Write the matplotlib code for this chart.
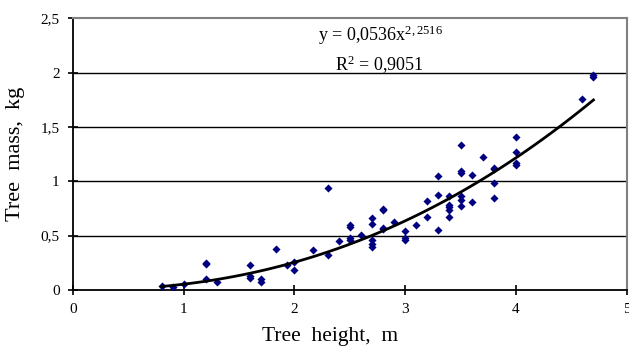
import matplotlib.pyplot as plt
import numpy as np

# tree height (m) and mass (kg)
height = [0.8, 0.9, 1.0, 1.2, 1.2, 1.2, 1.3, 1.6, 1.6, 1.6, 1.7, 1.7, 1.83, 1.93,
          2.0, 2.0, 2.17, 2.3, 2.3, 2.4, 2.5, 2.5, 2.5, 2.5, 2.6,
          2.7, 2.7, 2.7, 2.7, 2.7, 2.8, 2.8, 2.8, 2.8, 2.9,
          3.0, 3.0, 3.0, 3.1, 3.2, 3.2, 3.3, 3.3, 3.3,
          3.4, 3.4, 3.4, 3.4, 3.4, 3.5, 3.5, 3.5, 3.5, 3.5, 3.5,
          3.6, 3.6, 3.7, 3.8, 3.8, 3.8, 3.8, 4.0, 4.0, 4.0, 4.0,
          4.6, 4.7, 4.7]
mass = [0.04, 0.03, 0.055, 0.24, 0.25, 0.10, 0.075, 0.23, 0.13, 0.11, 0.10, 0.07, 0.38, 0.23,
        0.26, 0.18, 0.37, 0.94, 0.32, 0.45, 0.60, 0.58, 0.48, 0.46, 0.51,
        0.665, 0.61, 0.46, 0.42, 0.40, 0.745, 0.735, 0.57, 0.56, 0.63,
        0.54, 0.48, 0.46, 0.60, 0.82, 0.675, 1.05, 0.87, 0.55,
        0.86, 0.78, 0.76, 0.735, 0.67, 1.335, 1.095, 1.08, 0.86, 0.83, 0.775,
        1.055, 0.81, 1.22, 1.125, 1.11, 0.98, 0.85, 1.41, 1.265, 1.165, 1.15,
        1.76, 1.96, 1.975]

# power trendline coefficients
coef_a = 0.0536
coef_b = 2.2516
r_squared = "0,9051"

xticks = [0, 1, 2, 3, 4, 5]
yticks = [0, 0.5, 1, 1.5, 2, 2.5]
ytick_labels = ["0", "0,5", "1", "1,5", "2", "2,5"]

plt.rcParams['font.family'] = ['Liberation Serif', 'DejaVu Serif']
plt.rcParams['mathtext.fontset'] = 'custom'
plt.rcParams['mathtext.rm'] = 'Liberation Serif'
plt.rcParams['mathtext.it'] = 'Liberation Serif'

fig = plt.figure(figsize=(6.29, 3.49), dpi=100)
ax = fig.add_axes([0.116, 0.169, 0.8803, 0.779])

for v in yticks[1:-1]:
    ax.axhline(v, color='black', lw=1.0, zorder=1)

ax.scatter(height, mass, marker='D', s=17, color='#000080', zorder=3, linewidths=0)

xs = np.linspace(min(height), max(height), 60)
ax.plot(xs, coef_a * xs ** coef_b, color='black', lw=2.0, zorder=4)

ax.set_xlim(0, 5)
ax.set_ylim(0, 2.5)
ax.set_xticks(xticks)
ax.set_xticklabels([str(t) for t in xticks])
ax.set_yticks(yticks)
ax.set_yticklabels(ytick_labels)
ax.tick_params(direction='inout', length=7, width=1.2, labelsize=11, pad=6)

for side in ['left', 'bottom']:
    ax.spines[side].set_color('black')
    ax.spines[side].set_linewidth(1.3)
for side in ['top', 'right']:
    ax.spines[side].set_color('#808080')
    ax.spines[side].set_linewidth(1.5)

ax.text(2.78, 2.34, r"y = 0,0536x$^{\mathrm{2,2516}}$", fontsize=13, ha='center', va='center')
ax.text(2.77, 2.07, r"R$^{\mathrm{2}}$ = " + r_squared, fontsize=13, ha='center', va='center')

ax.set_xlabel("Tree  height,  m", fontsize=15.5)
ax.xaxis.set_label_coords(0.464, -0.135, transform=ax.transAxes)
ax.xaxis.label.set_va('top')
ax.set_ylabel("Tree  mass,  kg", fontsize=16)
ax.yaxis.set_label_coords(-0.087, 0.5, transform=ax.transAxes)

plt.savefig('out.png')
